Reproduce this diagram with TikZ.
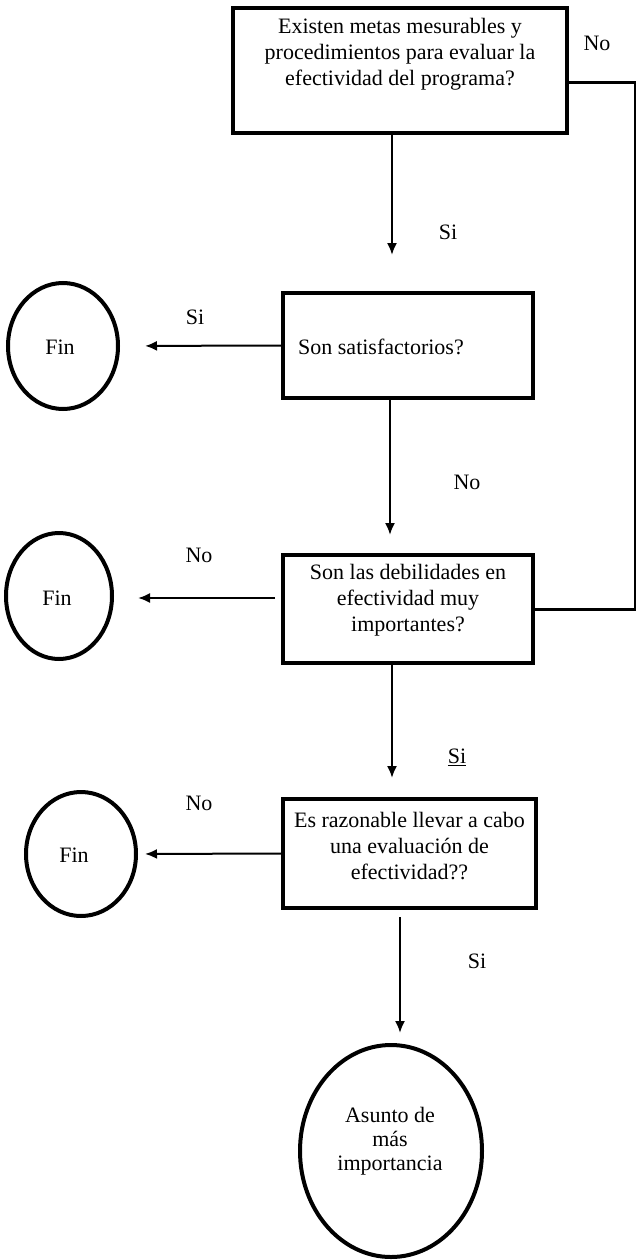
\documentclass[tikz,border=0pt]{standalone}
\usepackage{fontspec}
\setmainfont{Liberation Serif}
\usetikzlibrary{arrows.meta,shapes.geometric}
\begin{document}
\begin{tikzpicture}[x=1pt,y=-1pt,
  txt/.style={font=\fontsize{22}{26}\selectfont, inner sep=0pt},
  qbox/.style={draw, line width=4pt, inner sep=0pt},
  endnode/.style={draw, ellipse, line width=4pt, inner sep=0pt},
  arr/.style={line width=2pt, -{Latex[length=12pt,width=10pt]}},
  joinline/.style={line width=3pt}
]
\fill[white] (0,0) rectangle (635,1260);
\useasboundingbox (0,0) rectangle (635,1260);

% decision boxes
\node[qbox, minimum width=334pt, minimum height=125pt] (b1) at (400,70.5) {};
\node[txt, align=center] (t1) at (400,54) {Existen metas mesurables y\\procedimientos para evaluar la\\efectividad del programa?};

\node[qbox, minimum width=250pt, minimum height=105pt] (b2) at (408,345.5) {};
\node[txt, anchor=west] (t2) at (298,347) {Son satisfactorios?};

\node[qbox, minimum width=250pt, minimum height=108pt] (b3) at (408,609) {};
\node[txt, align=center] (t3) at (408,600) {Son las debilidades en\\efectividad muy\\importantes?};

\node[qbox, minimum width=253pt, minimum height=109pt] (b4) at (409.5,853.5) {};
\node[txt, align=center] (t4) at (409.5,846.5) {Es razonable llevar a cabo\\una evaluación de\\efectividad??};

% terminal ellipses
\node[endnode, minimum width=110pt, minimum height=126pt] (f1) at (63,346) {};
\node[txt] (ft1) at (60,347) {Fin};
\node[endnode, minimum width=106pt, minimum height=126pt] (f2) at (59,596) {};
\node[txt] (ft2) at (57,598) {Fin};
\node[endnode, minimum width=110pt, minimum height=124pt] (f3) at (81,854) {};
\node[txt] (ft3) at (74,855) {Fin};
\node[endnode, minimum width=182pt, minimum height=212pt] (e) at (391,1151) {};
\node[txt, align=center, font=\fontsize{22}{24}\selectfont] (et) at (390,1141) {Asunto de\\más\\importancia};

% connectors
\draw[arr, shorten >=36pt] ([xshift=-8pt]b1.south) -- ([xshift=-8pt]b1.south |- b2.north);
\draw[arr, shorten >=25pt] (b2.west) -- (f1.east);
\draw[arr, shorten >=18pt] ([xshift=-18pt]b2.south) -- ([xshift=-18pt]b2.south |- b3.north);
\draw[arr, shorten <=6pt, shorten >=24pt] ([yshift=11pt]b3.west) -- ([yshift=11pt]b3.west -| f2.east);
\draw[arr, shorten >=19pt] ([xshift=-16pt]b3.south) -- ([xshift=-16pt]b3.south |- b4.north);
\draw[arr, shorten >=7pt] (b4.west) -- (f3.east);
\draw[arr, shorten <=7pt, shorten >=10pt] ([xshift=-9.5pt]b4.south) -- ([xshift=-9.5pt]b4.south |- e.north);
\draw[joinline] ([yshift=-12.5pt]b1.east) -| ([xshift=100pt]b3.east) -- (b3.east);

% branch labels
\node[txt] (l1) at (597,43) {No};
\node[txt] (l2) at (448,232) {Si};
\node[txt] (l3) at (195,317) {Si};
\node[txt] (l4) at (467,482) {No};
\node[txt] (l5) at (199,555) {No};
\node[txt] (l6) at (457,757) {\underline{Si}};
\node[txt] (l7) at (199,803) {No};
\node[txt] (l8) at (477,961) {Si};
\end{tikzpicture}
\end{document}
